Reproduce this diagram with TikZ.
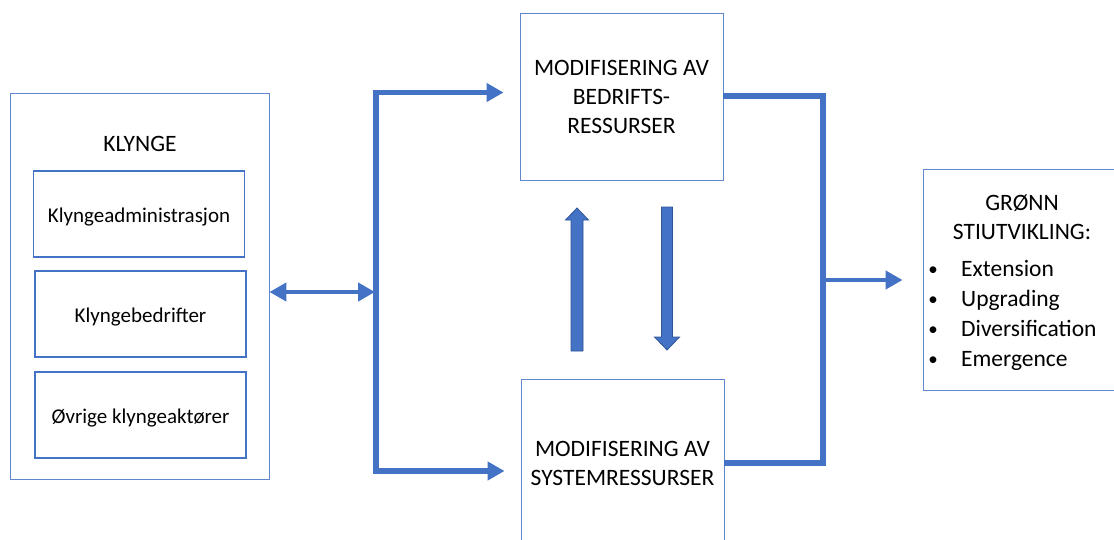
\documentclass[tikz,border=0pt]{standalone}
\usepackage{fontspec}
\setmainfont{Carlito}
\usetikzlibrary{arrows.meta}
\definecolor{accent}{HTML}{4472C4}
\definecolor{accentdark}{HTML}{2F5597}

\begin{document}
\begin{tikzpicture}[x=1pt,y=-1pt,
  frame/.style={draw=accent!85, line width=0.9pt, rectangle, inner sep=0pt},
  subframe/.style={draw=accent, line width=1.5pt, rectangle, inner sep=0pt,
    minimum width=211pt, minimum height=86pt, text height=17.4pt, text depth=0pt,
    font=\fontsize{21}{25}\selectfont},
  flow/.style={draw=accent, line width=5.5pt},
  link/.style={draw=accent, line width=4.5pt},
  tip/.style={-{Triangle[length=17pt,width=18pt]}},
  big/.style={font=\fontsize{23.5}{29}\selectfont, align=center},
  item/.style={font=\fontsize{23.5}{29}\selectfont, anchor=base west, inner sep=0pt},
  bullet/.style={font=\fontsize{19}{29}\selectfont, anchor=base, inner sep=0pt},
  block/.style={fill=accent, draw=accentdark, line width=0.8pt}]
\useasboundingbox (0,0) rectangle (1114,539);

% cluster with its three members
\node[frame, minimum width=259pt, minimum height=386pt] (klynge) at (139.5,286) {};
\node[big, anchor=base, inner sep=0pt] (klyngetitle) at (140,151) {KLYNGE};
\node[subframe] (admin) at (139,214) {Klyngeadministrasjon};
\node[subframe] (firms) at (140.5,314) {Klyngebedrifter};
\node[subframe] (others) at (140.5,415) {Øvrige klyngeaktører};

% the two kinds of resources
\node[frame, big, minimum width=203pt, minimum height=167pt] (top) at (621.5,96.5)
  {MODIFISERING AV\\BEDRIFTS-\\RESSURSER};
\node[frame, minimum width=203pt, minimum height=182pt] (bot) at (622.5,470) {};
\node[big, anchor=base, inner sep=0pt] (bottext) at (bot.center |- 0,485)
  {MODIFISERING AV\\SYSTEMRESSURSER};

% outcome
\node[frame, minimum width=197pt, minimum height=221pt] (green) at (1021.5,279.5) {};
\node[big, anchor=base, inner sep=0pt] (greentitle) at (1022,239)
  {GRØNN\\STIUTVIKLING:};
\node[bullet] (b1) at (933,275) {\textbullet};
\node[item] (i1) at (961,276) {Extension};
\node[bullet] (b2) at (933,305.5) {\textbullet};
\node[item] (i2) at (961,306.5) {Upgrading};
\node[bullet] (b3) at (933,335.5) {\textbullet};
\node[item] (i3) at (961,336.5) {Diversification};
\node[bullet] (b4) at (933,365) {\textbullet};
\node[item] (i4) at (961,366) {Emergence};

% distribution bus on the left
\coordinate (bt) at (376,92.5);
\coordinate (bb) at (376,471);
\coordinate (bm) at (376,292);
\draw[flow, tip, shorten >=16pt] (bb) -- (bt) -- (top.west |- bt);
\draw[flow, tip, shorten >=16pt] (bt) -- (bb) -- (bot.west |- bb);
\draw[link, {Triangle[length=17pt,width=18pt]}-{Triangle[length=17pt,width=18pt]}]
  (klynge.east |- bm) -- ([xshift=-1pt]bm);

% collecting bus on the right
\coordinate (rt) at (823,96);
\coordinate (rb) at (823,463);
\coordinate (rm) at (823,280);
\draw[flow] (top.east |- rt) -- (rt) -- (rb) -- (bot.east |- rb);
\draw[link, tip, shorten >=20pt] (rm) -- (green.west |- rm);

% exchange between the two kinds of resources
\path[block] (571,351) -- (571,220) -- (565.5,220) -- (577,208) -- (588.5,220)
  -- (583,220) -- (583,351) -- cycle;
\path[block] (661.5,207) -- (672.5,207) -- (672.5,337) -- (679.5,337) -- (667,350)
  -- (654.5,337) -- (661.5,337) -- cycle;
\end{tikzpicture}
\end{document}
